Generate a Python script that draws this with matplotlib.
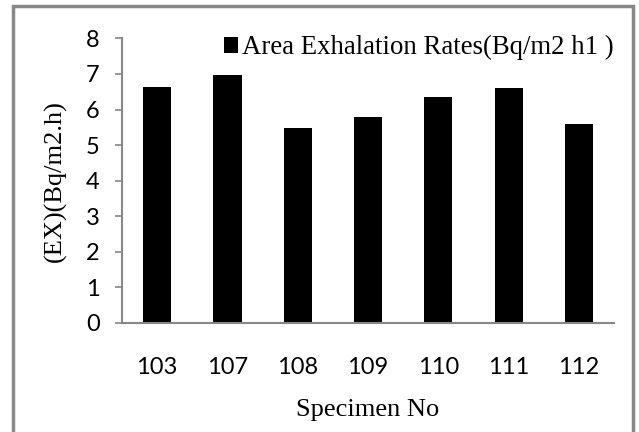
import matplotlib
matplotlib.use('Agg')
import matplotlib.pyplot as plt
from matplotlib.patches import Rectangle

specimens = ['103', '107', '108', '109', '110', '111', '112']
rates = [6.62, 6.98, 5.48, 5.78, 6.34, 6.60, 5.58]
series_name = 'Area Exhalation Rates(Bq/m2 h1 )'

fig = plt.figure(figsize=(6.39, 4.32), dpi=100)
ax = fig.add_axes([0.191, 0.253, 0.770, 0.658])

x = range(len(specimens))
ax.bar(x, rates, width=0.4, color='black', label=series_name)
ax.set_xlim(-0.5, len(specimens) - 0.5)
ax.set_ylim(0, 8)
ax.set_xticks(list(x))
ax.set_xticklabels(specimens, fontfamily='Lato', fontsize=17)
ax.set_yticks(range(0, 9))
ax.set_yticklabels([str(v) for v in range(0, 9)], fontfamily='Lato', fontsize=17)
ax.tick_params(axis='x', length=0, pad=25)
ax.tick_params(axis='y', length=5, color='#888888', width=1.2, pad=11)

for s in ['top', 'right']:
    ax.spines[s].set_visible(False)
for s in ['left', 'bottom']:
    ax.spines[s].set_color('#888888')
    ax.spines[s].set_linewidth(1.5)

ax.set_xlabel('Specimen No', fontfamily='Liberation Serif', fontsize=19, labelpad=15)
ax.set_ylabel('(EX)(Bq/m2.h)', fontfamily='Liberation Serif', fontsize=19, labelpad=14)

leg = ax.legend(loc='upper right', bbox_to_anchor=(1.02, 1.05), frameon=False,
                prop={'family': 'Liberation Serif', 'size': 19.3},
                handlelength=0.55, handleheight=0.55, handletextpad=0.12,
                borderaxespad=0)

# outer frame (left, top, right)
fig.patches.append(Rectangle((12.5 / 639, -0.05), (633 - 12.5) / 639, 1.05 - 6 / 432,
                             transform=fig.transFigure, fill=False,
                             edgecolor='#888888', linewidth=2.5))

fig.savefig('out.png', dpi=100)
